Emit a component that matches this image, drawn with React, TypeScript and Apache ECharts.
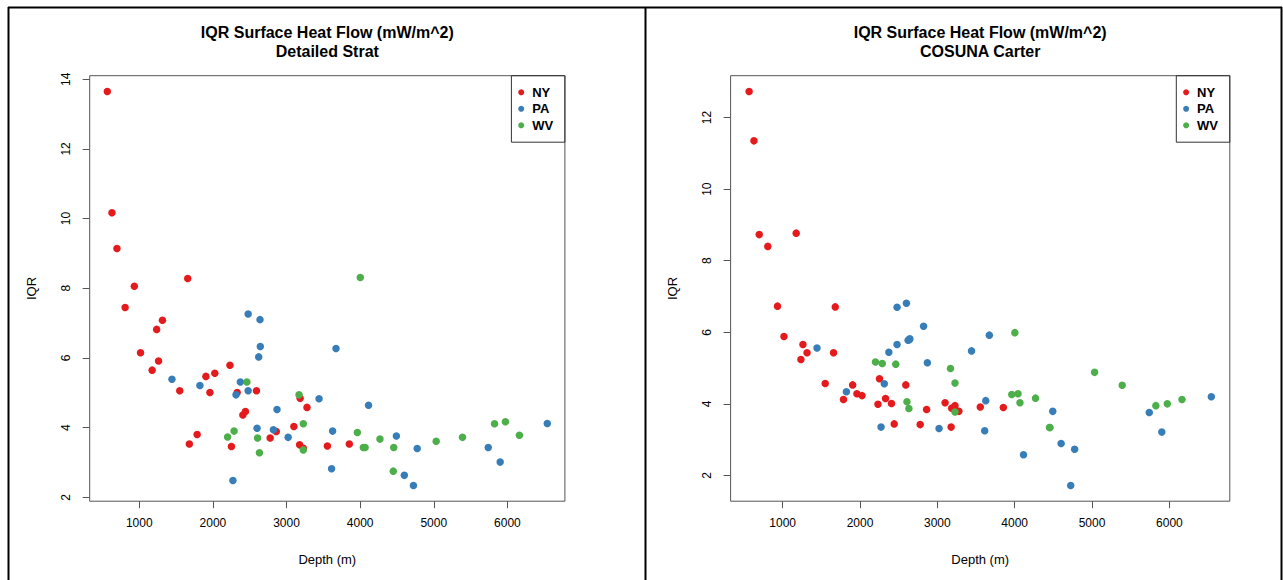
import React, { useEffect, useRef } from "react";
import * as echarts from "echarts";

// ---- data ----
const states = ["NY", "PA", "WV"];
const stateColors = ["#E41A1C", "#377EB8", "#4DAF4A"];

const nyDepth = [566, 629, 697, 808, 933, 1017, 1175, 1236, 1262, 1315, 1550, 1658, 1680, 1786, 1905, 1960, 2026, 2232, 2252, 2330, 2407, 2442, 2592, 2778, 2861, 3100, 3178, 3185, 3228, 3278, 3555, 3853];
const nyDetailed = [13.65, 10.17, 9.14, 7.45, 8.06, 6.15, 5.65, 6.82, 5.91, 7.08, 5.06, 8.28, 3.53, 3.8, 5.47, 5.01, 5.56, 5.79, 3.46, 5.01, 4.36, 4.46, 5.06, 3.7, 3.89, 4.03, 3.51, 4.84, 3.41, 4.58, 3.47, 3.53];
const nyCosuna = [12.73, 11.35, 8.73, 8.4, 6.73, 5.88, 8.77, 5.24, 5.66, 5.43, 4.57, 5.43, 6.71, 4.12, 4.53, 4.28, 4.23, 3.99, 4.7, 4.15, 4.01, 3.44, 4.53, 3.42, 3.84, 4.03, 3.35, 3.88, 3.95, 3.79, 3.91, 3.9];

const paDepth = [1444, 1824, 2272, 2314, 2373, 2479, 2479, 2600, 2622, 2640, 2644, 2822, 2871, 3022, 3442, 3612, 3626, 3672, 4114, 4492, 4600, 4724, 4775, 5740, 5902, 6542];
const paDetailed = [5.39, 5.21, 2.48, 4.94, 5.31, 7.26, 5.06, 3.98, 6.03, 7.1, 6.33, 3.94, 4.52, 3.72, 4.83, 2.82, 3.9, 6.27, 4.64, 3.76, 2.63, 2.34, 3.4, 3.43, 3.01, 4.12];
const paCosuna = [5.56, 4.34, 3.35, 4.56, 5.44, 6.7, 5.66, 6.81, 5.78, 5.8, 5.82, 6.17, 5.15, 3.31, 5.48, 3.25, 4.09, 5.92, 2.58, 3.79, 2.89, 1.72, 2.73, 3.76, 3.21, 4.2];

const wvDepth = [2200, 2288, 2462, 2607, 2632, 3170, 3228, 3228, 3962, 4002, 4043, 4068, 4269, 4450, 4456, 5033, 5390, 5825, 5973, 6163];
const wvDetailed = [3.73, 3.9, 5.31, 3.7, 3.28, 4.94, 4.11, 3.36, 3.86, 8.31, 3.43, 3.43, 3.67, 2.75, 3.43, 3.61, 3.72, 4.11, 4.17, 3.78];
const wvCosuna = [5.17, 5.13, 5.11, 4.06, 3.87, 4.99, 4.58, 3.77, 4.26, 5.99, 4.28, 4.03, 4.16, 3.34, 3.34, 4.88, 4.52, 3.95, 4.0, 4.12];

const xTicks = [1000, 2000, 3000, 4000, 5000, 6000];
const yTicksDetailed = [2, 4, 6, 8, 10, 12, 14];
const yTicksCosuna = [2, 4, 6, 8, 10, 12];

const titleMain = "IQR Surface Heat Flow (mW/m^2)";
const subtitles = ["Detailed Strat", "COSUNA Carter"];
const xName = "Depth (m)";
const yName = "IQR";

// ---- helpers ----
const FONT = "'Liberation Sans', Arial, sans-serif";

function rExtent(values: number[]) {
  const mn = Math.min(...values);
  const mx = Math.max(...values);
  const e = (mx - mn) * 0.04;
  return [mn - e, mx + e];
}

function zip(xs: number[], ys: number[]) {
  return xs.map((x, i) => [x, ys[i]]);
}

export default function App() {
  const ref = useRef<HTMLDivElement>(null);

  useEffect(() => {
    if (!ref.current) return;
    const chart = echarts.init(ref.current, undefined, { renderer: "svg" });

    const depths = [nyDepth, paDepth, wvDepth];
    const panels = [
      [nyDetailed, paDetailed, wvDetailed],
      [nyCosuna, paCosuna, wvCosuna],
    ];
    const xExt = rExtent(depths.flat());
    const yExts = panels.map((p) => rExtent(p.flat()));
    const yTicks = [yTicksDetailed, yTicksCosuna];

    const grids = [
      { left: 89.7, top: 75.7, width: 475.2, height: 425.5 },
      { left: 730.6, top: 75.7, width: 499.2, height: 425.5 },
    ];

    const option: any = {
      animation: false,
      backgroundColor: "#fff",
      title: grids.map((g, i) => ({
        text: titleMain + "\n" + subtitles[i],
        left: g.left + g.width / 2,
        top: 22.5,
        textAlign: "center",
        padding: 0,
        textStyle: {
          fontSize: 16,
          fontWeight: "bold",
          lineHeight: 19.5,
          color: "#000",
          fontFamily: FONT,
        },
      })),
      grid: grids.map((g) => ({
        ...g,
        show: true,
        borderColor: "#555",
        borderWidth: 1,
        backgroundColor: "transparent",
        containLabel: false,
      })),
      legend: grids.map((g) => ({
        data: states,
        orient: "vertical",
        left: g.left + g.width - 46.7,
        top: 85.8,
        itemWidth: 12,
        itemHeight: 6,
        itemGap: 3.5,
        icon: "circle",
        padding: 0,
        selectedMode: false,
        textStyle: { fontSize: 13, fontWeight: "bold", color: "#000", fontFamily: FONT },
      })),
      xAxis: grids.map((g, i) => ({
        type: "value",
        gridIndex: i,
        min: xExt[0],
        max: xExt[1],
        name: xName,
        nameLocation: "middle",
        nameGap: 52,
        nameTextStyle: { fontSize: 13, color: "#000", fontFamily: FONT },
        axisLine: { show: false },
        splitLine: { show: false },
        axisTick: {
          show: true,
          length: 7,
          customValues: xTicks,
          lineStyle: { color: "#555" },
        },
        axisLabel: {
          customValues: xTicks,
          formatter: (v: number) => String(v),
          fontSize: 12,
          margin: 16,
          color: "#000",
          fontFamily: FONT,
        },
      })),
      yAxis: grids.map((g, i) => ({
        type: "value",
        gridIndex: i,
        min: yExts[i][0],
        max: yExts[i][1],
        name: yName,
        nameLocation: "middle",
        nameGap: 52,
        nameTextStyle: { fontSize: 13, color: "#000", fontFamily: FONT },
        axisLine: { show: false },
        splitLine: { show: false },
        axisTick: {
          show: true,
          length: 7,
          customValues: yTicks[i],
          lineStyle: { color: "#555" },
        },
        axisLabel: {
          customValues: yTicks[i],
          formatter: (v: number) => String(v),
          rotate: 90,
          fontSize: 12,
          margin: 18,
          color: "#000",
          fontFamily: FONT,
        },
      })),
      series: panels.flatMap((vals, gi) =>
        states.map((s, si) => ({
          type: "scatter",
          name: s,
          xAxisIndex: gi,
          yAxisIndex: gi,
          symbol: "circle",
          symbolSize: 7.5,
          itemStyle: { color: stateColors[si], opacity: 1 },
          data: zip(depths[si], vals[si]),
        }))
      ),
      graphic: [
        // panel frames
        { type: "line", shape: { x1: 8, y1: 7.5, x2: 1282, y2: 7.5 }, style: { stroke: "#000", lineWidth: 2 } },
        { type: "line", shape: { x1: 8.5, y1: 7, x2: 8.5, y2: 580 }, style: { stroke: "#000", lineWidth: 2 } },
        { type: "line", shape: { x1: 645.5, y1: 7, x2: 645.5, y2: 580 }, style: { stroke: "#000", lineWidth: 2 } },
        { type: "line", shape: { x1: 1281.5, y1: 7, x2: 1281.5, y2: 580 }, style: { stroke: "#000", lineWidth: 2 } },
        // legend boxes
        ...grids.map((g) => ({
          type: "rect",
          shape: { x: g.left + g.width - 53.5, y: g.top, width: 53.5, height: 66.5 },
          style: { fill: "none", stroke: "#333", lineWidth: 1 },
          z: 10,
        })),
      ],
    };

    chart.setOption(option);
    return () => chart.dispose();
  }, []);

  return (
    <div
      ref={ref}
      style={{ position: "fixed", left: 0, top: 0, width: 1283, height: 580, background: "#fff" }}
    />
  );
}
